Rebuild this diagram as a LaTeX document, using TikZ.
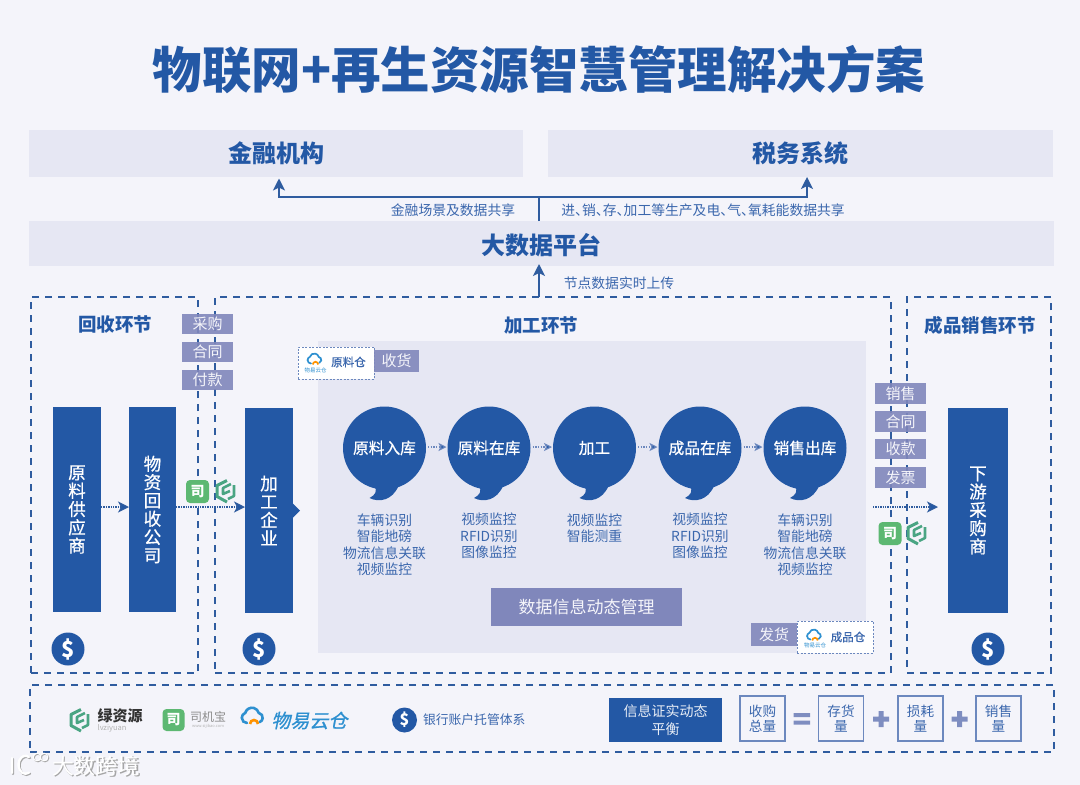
\documentclass[tikz,border=0pt]{standalone}
\usepackage{fontspec}
\setmainfont{Noto Sans CJK SC}
\newfontfamily\slfont[FakeSlant=0.2,FakeBold=1]{Noto Sans CJK SC}
\newfontfamily\medfont[FakeBold=0.7]{Noto Sans CJK SC}
\usetikzlibrary{arrows.meta,shapes.geometric,calc}
\definecolor{bg}{HTML}{F4F4FA}
\definecolor{panel}{HTML}{E6E7F3}
\definecolor{mainblue}{HTML}{2358A5}
\definecolor{dashblue}{HTML}{2F5C9F}
\definecolor{tagc}{HTML}{8087BB}
\definecolor{txtblue}{HTML}{3B67AD}
\definecolor{boxline}{HTML}{6C88BE}
\definecolor{symc}{HTML}{7E8DC0}
\definecolor{gr}{HTML}{5DB872}
\definecolor{hexg}{HTML}{4AA583}
\definecolor{cloudb}{HTML}{2E90D0}
\newcommand{\myfs}[2]{\fontsize{#1}{#2}\selectfont}
\newcommand{\dun}{、\kern-6.8pt}
\tikzset{
 x=1pt,y=-1pt,
 every node/.style={inner sep=0pt,outer sep=0pt},
 band/.style={fill=panel,font=\myfs{24}{28}\bfseries,text=mainblue,anchor=center},
 zone/.style={draw=dashblue,line width=1.7pt,dash pattern=on 7pt off 6pt},
 zonetitle/.style={font=\myfs{18.5}{22}\bfseries,text=mainblue},
 block/.style={fill=mainblue,text=white,font=\myfs{17.5}{18.3}\medfont,align=center},
 tag/.style={fill=tagc,fill opacity=.9,text opacity=1,text=white!92!tagc,font=\myfs{15}{18}},
 bubble/.style={circle,fill=mainblue,minimum size=83pt,text=white,font=\myfs{15.7}{18}\medfont},
 tail/.style={fill=mainblue},
 small/.style={text=txtblue,font=\myfs{13.8}{16.5},align=center},
 share label/.style={text=txtblue,font=\myfs{13.8}{16}},
 dollar/.style={circle,fill=mainblue,text=white,font=\myfs{22}{24}\bfseries},
 dotflow/.style={draw=dashblue,line width=1.2pt,dash pattern=on 1.3pt off 1.1pt,-{Stealth[length=11pt,width=11pt,inset=3pt,fill=mainblue]}},
 dotsmall/.style={draw=boxline,line width=1.1pt,dash pattern=on 1.3pt off 1.4pt,-{Stealth[length=8pt,width=8pt,inset=2pt,fill=mainblue]},shorten <=2pt,shorten >=1pt},
 share/.style={draw=dashblue,line width=1.4pt},
 sharearrow/.style={share,-{Stealth[length=12pt,width=12pt,inset=3pt]}},
 wh/.style={fill=white,draw=boxline,line width=.8pt,dash pattern=on 2pt off 1.5pt},
 eqbox/.style={draw=boxline,line width=1.1pt,fill=bg,minimum width=45pt,minimum height=45pt,text=txtblue,font=\myfs{13.6}{14.8},align=center},
 sym/.style={fill=symc},
 sijilogo/.style={fill=gr,rounded corners=4pt,minimum size=#1,text=white,font=\myfs{14}{15}\bfseries},
 hexa/.pic={
   \draw[hexg,line width=3pt,line join=round] (2,-10.5) -- (-8,-5.5) -- (-8,5.5) -- (2,11);
   \draw[hexg,line width=2.6pt,line join=round] (9,-6) -- (9,5) -- (3,8);
   \draw[hexg,line width=2.6pt,line join=round] (6,-7) -- (-2,-3) -- (-2,3) -- (5,0);
 },
 cloudpic/.pic={
   \draw[cloudb,line width=1.7pt,line cap=round] (-4.5,4.5) arc (90:250:3.4) arc (195:345:4.6) arc (280:430:3.1);
   \draw[orange!85!yellow,line width=1.7pt] (-2.7,5.5) arc (180:360:2.7);
 },
 cloudbig/.pic={
   \draw[cloudb,line width=2.6pt,line cap=round] (-7,7) arc (90:250:5.2) arc (195:345:7) arc (280:430:4.8);
   \draw[orange!85!yellow,line width=2.6pt] (-4,8) arc (180:360:4);
 },
}
\begin{document}
\begin{tikzpicture}
\useasboundingbox (0,0) rectangle (1080,785);
\fill[bg] (0,0) rectangle (1080,785);

% title
\node (title) at (539,69.5) {\myfs{49.5}{56}\bfseries\textcolor{mainblue}{物联网+再生资源智慧管理解决方案}};

% top bands
\node[band,minimum width=494pt,minimum height=47pt] (fin) at (276,153) {金融机构};
\node[band,minimum width=505pt,minimum height=47pt] (tax) at (800.5,153.5) {税务系统};
\node[band,minimum width=1025pt,minimum height=45pt] (plat) at (541.5,243.5) {};
\node[font=\myfs{24}{28}\bfseries,text=mainblue] (platt) at (541,245) {大数据平台};

% zones
\node[zone,minimum width=167pt,minimum height=376pt] (rec) at (114.5,485) {};
\node[zone,minimum width=676pt,minimum height=376pt] (proc) at (553,485) {};
\node[zone,minimum width=144pt,minimum height=376pt] (sale) at (979,485) {};
\node[zone,minimum width=1024pt,minimum height=67pt] (foot) at (542,718.5) {};
\node[zonetitle] (t1) at (115,325) {回收环节};
\node[zonetitle] (t2) at (541,325) {加工环节};
\node[zonetitle] (t3) at (980,325) {成品销售环节};

% connectors at the top
\coordinate (jn) at (539,197);
\draw[share] (jn |- plat.north) -- (jn);
\draw[sharearrow,shorten >=2pt] (jn) -| ([xshift=3pt]fin.south);
\draw[sharearrow] (jn) -| ([xshift=6.5pt]tax.south);
\draw[sharearrow,line width=1.8pt] (jn |- proc.north) -- ([yshift=2pt]jn |- plat.south);
\node[share label] (l1) at (453,210) {金融场景及数据共享};
\node[share label] (l2) at (703,210) {进\dun 销\dun 存\dun 加工等生产及电\dun 气\dun 氧耗能数据共享};
\node[share label] (l3) at (619,283) {节点数据实时上传};

% panel
\node[fill=panel,minimum width=548pt,minimum height=312pt] (pan) at (592,497) {};
\node[wh,minimum width=76pt,minimum height=32pt] (wh1) at (336,363) {};
\pic at (315.5,359) {cloudpic};
\node[text=cloudb,font=\myfs{5.5}{6}] (wh1s) at (315.5,370) {物易云仓};
\node[text=txtblue,font=\myfs{11.5}{13}\medfont] (wh1t) at (348.5,362) {原料仓};
\node[tag,minimum width=45pt,minimum height=22pt] (recv) at (396.5,361) {收货};
\node[tag,minimum width=46pt,minimum height=23pt] (ship) at (774,634.5) {发货};
\node[wh,minimum width=76pt,minimum height=32pt] (wh2) at (835,637) {};
\pic at (815,635) {cloudpic};
\node[text=cloudb,font=\myfs{5.5}{6}] (wh2s) at (815,645) {物易云仓};
\node[text=txtblue,font=\myfs{11.5}{13}\medfont] (wh2t) at (848,637) {成品仓};

% blocks
\node[block,minimum width=48pt,minimum height=205pt] (sup) at (77,509.5) {原\\料\\供\\应\\商};
\node[block,minimum width=47pt,minimum height=205pt] (com) at (152.5,509.5) {物\\资\\回\\收\\公\\司};
\node[block,minimum width=48pt,minimum height=205pt] (fac) at (269,510.5) {加\\工\\企\\业};
\node[block,minimum width=60pt,minimum height=205pt] (buy) at (978,510.5) {下\\游\\采\\购\\商};
\fill[mainblue] (fac.east) ++(0,-7) -- ++(7,7) -- ++(-7,7) -- cycle;

% tags
\node[tag,minimum width=51pt,minimum height=20pt] (a1) at (207.5,324) {采购};
\node[tag,minimum width=51pt,minimum height=20pt] (a2) at (207.5,352) {合同};
\node[tag,minimum width=51pt,minimum height=20pt] (a3) at (207.5,380) {付款};
\node[tag,minimum width=51pt,minimum height=20.5pt] (b1) at (900.5,393.5) {销售};
\node[tag,minimum width=51pt,minimum height=20.5pt] (b2) at (900.5,421.5) {合同};
\node[tag,minimum width=51pt,minimum height=20.5pt] (b3) at (900.5,449) {收款};
\node[tag,minimum width=51pt,minimum height=20.5pt] (b4) at (900.5,477.5) {发票};

% flows
\coordinate (fy) at (0,507);
\coordinate (fs) at (873,507);
\draw[dotflow] (sup.east |- fy) -- (com.west |- fy);
\draw[dotflow] (com.east |- fy) -- (fac.west |- fy);
\draw[dotflow] (fs) -- ([xshift=-10pt]buy.west |- fs);

% logos on flows
\node[sijilogo=23pt] (g1) at (197.5,491.5) {司};
\pic at (225,491) {hexa};
\node[sijilogo=23pt] (g2) at (890,533.5) {司};
\pic at (916,533) {hexa};

% bubbles
\foreach \n/\cx/\lab in {c1/384.5/原料入库,c2/489/原料在库,c3/594.5/加工,c4/700/成品在库,c5/805/销售出库}{
  \fill[tail] (\cx-10,486) .. controls (\cx-7,491) and (\cx-9,495) .. (\cx-15,498)
     .. controls (\cx-5,503) and (\cx+8,500) .. (\cx+14,486) -- cycle;
  \node[bubble] (\n) at (\cx,448) {\lab};
}
\foreach \p/\q in {c1/c2,c2/c3,c3/c4,c4/c5}{\draw[dotsmall] ([yshift=1pt]\p.east) -- ([yshift=1pt]\q.west);}
\node[small] (d1) at (384.5,544.5) {车辆识别\\智能地磅\\物流信息关联\\视频监控};
\node[small] (d2) at (489,536) {视频监控\\RFID识别\\图像监控};
\node[small] (d3) at (594.5,528) {视频监控\\智能测重};
\node[small] (d4) at (700,536) {视频监控\\RFID识别\\图像监控};
\node[small] (d5) at (805,544.5) {车辆识别\\智能地磅\\物流信息关联\\视频监控};
\node[fill=tagc,text=white!92!tagc,font=\myfs{17}{20},minimum width=191pt,minimum height=38pt] (dm) at (586.5,607) {数据信息动态管理};

% dollars
\node[dollar,minimum size=33pt] (s1) at (68,649) {\$};
\node[dollar,minimum size=33pt] (s2) at (259,649) {\$};
\node[dollar,minimum size=33pt] (s3) at (988,649) {\$};

% footer
\pic at (79,720) {hexa};
\node[text=black!80,font=\myfs{15}{16}\bfseries] (lg1) at (120,716) {绿资源};
\node[text=black!30,font=\myfs{7.5}{8}] (lg1s) at (112,728) {lvziyuan};
\node[sijilogo=22pt] (g3) at (173.5,720) {司};
\node[text=black!45,font=\myfs{12}{13}] (lg2) at (208,717) {司机宝};
\node[text=black!30,font=\myfs{4}{5}] (lg2s) at (208,726.5) {www.sijibao.com};
\pic at (254,716) {cloudbig};
\node[text=cloudb,font=\myfs{19}{21}\slfont] (lg3) at (309.5,720.5) {物易云仓};
\node[dollar,minimum size=25pt,font=\myfs{16}{18}\bfseries] (s4) at (404.5,720) {\$};
\node[text=txtblue,font=\myfs{12.8}{14},anchor=west] (s4t) at (423,720) {银行账户托管体系};
\node[fill=mainblue,text=white!90!mainblue,font=\myfs{14}{18},align=center,minimum width=113pt,minimum height=44pt] (bal) at (665.5,720) {信息证实动态\\平衡};
\node[eqbox] (e1) at (762.5,718.5) {收购\\总量};
\node[eqbox] (e2) at (841,718.5) {存货\\量};
\node[eqbox] (e3) at (920.5,718.5) {损耗\\量};
\node[eqbox] (e4) at (998.5,718.5) {销售\\量};
\fill[sym] (793.5,713) rectangle (810,717) (793.5,720.5) rectangle (810,724.5);
\fill[sym] (873,716.5) rectangle (889,721.5) (878.5,711) rectangle (883.5,727);
\fill[sym] (951.5,716.5) rectangle (967.5,721.5) (957,711) rectangle (962,727);

% watermark
\foreach \dx/\c in {1/black!35,0/white}{
 \node[text=\c,font=\myfs{22}{24}] (wm\dx) at (96+\dx,766+\dx) {大数跨境};
 \draw[\c,line width=2.4pt,line cap=round] (12+\dx,758+\dx) -- (12+\dx,773+\dx) (29+\dx,757+\dx) arc (-60:-300:7 and 9);
 \draw[\c,line width=1pt] (37+\dx,757+\dx) circle (3.8) (44+\dx,757+\dx) circle (3.8);
}
\end{tikzpicture}
\end{document}
